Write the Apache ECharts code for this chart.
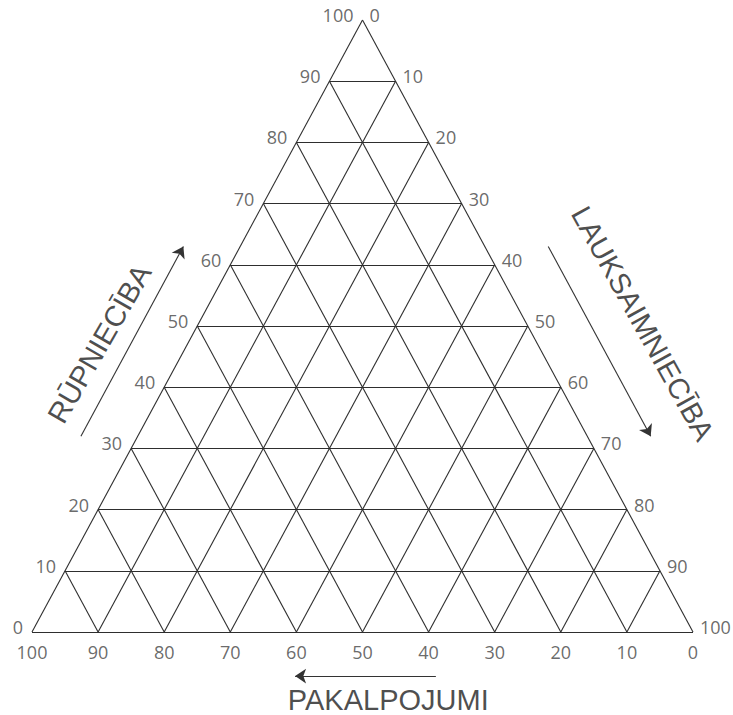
<!DOCTYPE html>
<html>
<head>
<meta charset="utf-8">
<script src="https://cdn.jsdelivr.net/npm/echarts@6/dist/echarts.min.js"></script>
<style>
  html, body { margin: 0; padding: 0; background: #fff; }
  #chart { width: 733px; height: 715px; }
</style>
</head>
<body>
<div id="chart"></div>
<script>
// ternary diagram: industry (left), agriculture (right), services (bottom)
const ticks = [0, 10, 20, 30, 40, 50, 60, 70, 80, 90, 100]
const axisTitles = ['RŪPNIECĪBA', 'LAUKSAIMNIECĪBA', 'PAKALPOJUMI']

// ternary -> cartesian (x 0..100, y 0..100)
function tern(ind, agr) {
  return [agr + ind / 2, ind]
}

const gridLines = []
ticks.slice(0, 10).forEach(k => {
  gridLines.push({ coords: [tern(k, 0), tern(k, 100 - k)] }) // industry = k
  gridLines.push({ coords: [tern(0, k), tern(100 - k, k)] }) // agriculture = k
  gridLines.push({ coords: [tern(0, 100 - k), tern(100 - k, 0)] }) // services = k
})

const industryLabels = ticks.map(k => ({ value: tern(k, 0), name: String(k) }))
const agriLabels = ticks.map(k => ({ value: tern(100 - k, k), name: String(k) }))
const serviceLabels = ticks.map(k => ({ value: tern(0, 100 - k), name: String(k) }))

// arrows beside each side, shifted outward
const shiftL = 8.6, shiftR = 9.6
const arrows = [
  { coords: [[tern(32, 0)[0] - shiftL, 32], [tern(63, 0)[0] - shiftL, 63]] },
  { coords: [[tern(63, 37)[0] + shiftR, 63], [tern(32, 68)[0] + shiftR, 32]] },
  { coords: [[61.1, -7.2], [39.8, -7.2]] }
]

const chart = echarts.init(document.getElementById('chart'), null, { renderer: 'svg' })

const tickFont = { fontFamily: 'Open Sans', fontSize: 18, color: '#444' }
const titleFont = { fontFamily: 'Liberation Sans', fontSize: 29, color: '#1e1e1e' }

function labelSeries(data, pos, dist, offset) {
  return {
    type: 'scatter',
    data,
    symbolSize: 0,
    clip: false,
    silent: true,
    label: Object.assign({
      show: true,
      position: pos,
      distance: dist,
      offset,
      formatter: p => p.name
    }, tickFont)
  }
}

function titleItem(text, pos, rotate) {
  return {
    value: pos,
    name: text,
    label: Object.assign({ show: true, position: 'inside', rotate, formatter: text }, titleFont)
  }
}

chart.setOption({
  animation: false,
  backgroundColor: '#fff',
  grid: { left: 32, right: 40, top: 20, bottom: 83 },
  xAxis: { type: 'value', min: 0, max: 100, show: false },
  yAxis: { type: 'value', min: 0, max: 100, show: false },
  series: [
    {
      type: 'lines',
      coordinateSystem: 'cartesian2d',
      data: gridLines,
      clip: false,
      silent: true,
      lineStyle: { color: '#2e2e2e', width: 1.1, opacity: 1 }
    },
    {
      type: 'lines',
      coordinateSystem: 'cartesian2d',
      data: arrows,
      clip: false,
      silent: true,
      symbol: ['none', 'arrow'],
      symbolSize: 11,
      lineStyle: { color: '#333', width: 1.1, opacity: 1 }
    },
    labelSeries(industryLabels, 'left', 9, [0, -5]),
    labelSeries(agriLabels, 'right', 7, [0, -5]),
    labelSeries(serviceLabels, 'bottom', 11, [0, 0]),
    {
      type: 'scatter',
      symbolSize: 0,
      clip: false,
      silent: true,
      data: [
        titleItem(axisTitles[0], [10.2, 47.1], 60),
        titleItem(axisTitles[1], [92.4, 50.4], -61),
        titleItem(axisTitles[2], [53.9, -11.1], 0)
      ]
    }
  ]
})
</script>
</body>
</html>
